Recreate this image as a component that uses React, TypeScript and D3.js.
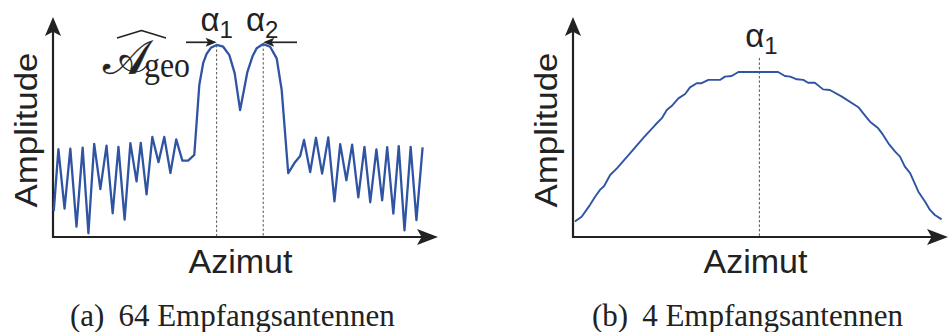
import React from "react";
import * as d3 from "d3";

// Panel (a): 64 receive antennas — azimuth samples and amplitudes
const AZIMUT_64 = [
  0.2, 1.4, 3.0, 4.5, 6.1, 7.7, 9.2, 10.7, 12.3, 13.9, 15.5, 17.0, 18.6, 20.1, 21.7, 22.8,
  24.3, 25.8, 27.4, 28.9, 30.5, 32.0, 33.6, 35.1, 36.7, 38.0, 39.0, 39.9, 41.0, 42.5, 44.2,
  45.8, 47.2, 48.6, 49.6, 50.5, 51.8, 52.9, 54.6, 56.4, 58.1, 59.4, 61.1, 62.7, 64.2, 65.2,
  66.8, 68.3, 69.9, 71.5, 73.1, 74.6, 76.2, 77.7, 79.3, 80.9, 82.4, 84.0, 85.5, 86.8, 88.4,
  89.8, 91.3, 92.9, 94.4, 96.0,
];
const AMPLITUDE_64 = [
  11.8, 39.9, 12.9, 40.2, 4.7, 40.6, 1.7, 42.3, 21.8, 41.5, 10.8, 41.0, 7.9, 42.7, 25.3, 42.8,
  19.4, 45.5, 34.0, 45.5, 29.1, 44.4, 34.7, 34.7, 37.3, 69.1, 79.0, 83.2, 86.0, 87.3, 86.5,
  82.7, 74.4, 57.7, 66.8, 75.1, 82.0, 85.8, 87.7, 86.5, 81.2, 66.8, 29.0, 33.6, 36.8, 44.1,
  29.5, 45.1, 28.8, 45.3, 16.2, 42.2, 25.8, 42.0, 18.0, 41.0, 15.8, 39.8, 16.7, 40.8, 10.6,
  41.3, 3.0, 41.0, 7.7, 40.7,
];
const PEAKS_64 = [42.5, 54.6];
const PEAK_AMPLITUDES_64 = [87.3, 87.7];
const PEAK_NAMES_64 = ["1", "2"];

// Panel (b): 4 receive antennas
const AZIMUT_4 = [
  0.5, 2.3, 4.5, 5.9, 7.2, 8.3, 9.9, 11.7, 15.2, 18.7, 21.9, 23.7, 25.0, 26.3, 28.1, 29.9,
  31.2, 33.0, 34.3, 36.1, 39.2, 40.5, 42.3, 44.1, 54.7, 56.5, 57.9, 59.7, 61.4, 62.7, 64.5,
  66.7, 68.5, 71.7, 76.1, 77.4, 79.2, 81.4, 82.7, 84.1, 85.9, 87.2, 88.5, 89.9, 92.1, 93.9,
  95.2, 96.5, 98.3,
];
const AMPLITUDE_4 = [
  7.0, 9.2, 14.5, 18.3, 21.4, 23.2, 28.2, 31.2, 38.0, 44.9, 50.9, 54.0, 57.7, 59.5, 63.0, 65.0,
  68.0, 69.9, 69.9, 71.4, 71.4, 72.9, 73.2, 75.0, 75.0, 73.2, 72.9, 71.7, 71.4, 70.1, 70.1,
  67.1, 66.8, 63.8, 59.0, 56.2, 52.4, 49.4, 46.4, 42.6, 38.8, 36.5, 32.0, 29.0, 20.6, 16.0,
  12.3, 10.0, 8.0,
];
const PEAKS_4 = [49.7];
const PEAK_AMPLITUDES_4 = [81.4];
const PEAK_NAMES_4 = ["1"];

const X_LABEL = "Azimut";
const Y_LABEL = "Amplitude";
const CAPTION_TAGS = ["(a)", "(b)"];
const CAPTION_TEXTS = ["64 Empfangsantennen", "4 Empfangsantennen"];

const W = 950;
const H = 332;
const INK = "#222";
const BLUE = "#2f54a3";
const SANS = "'Liberation Sans', Arial, Helvetica, sans-serif";
const SERIF = "'Liberation Serif', 'Times New Roman', serif";

const yScale = d3.scaleLinear().domain([0, 100]).range([237, 17]);
const xScaleA = d3.scaleLinear().domain([0, 100]).range([53, 438]);
const xScaleB = d3.scaleLinear().domain([0, 100]).range([573, 948]);

// Filled arrowhead with a slightly notched back; dir is the pointing direction
function arrowHead(tx: number, ty: number, dir: "up" | "right" | "left", len: number, half: number) {
  const notch = len * 0.22;
  if (dir === "up") {
    return `M${tx},${ty} L${tx - half},${ty + len} L${tx},${ty + len - notch} L${tx + half},${ty + len} Z`;
  }
  const s = dir === "right" ? -1 : 1;
  return `M${tx},${ty} L${tx + s * len},${ty - half} L${tx + s * (len - notch)},${ty} L${tx + s * len},${ty + half} Z`;
}

type PanelProps = {
  xs: number[];
  ys: number[];
  x: d3.ScaleLinear<number, number>;
  peaks: number[];
  peakAmps: number[];
  stroke: number;
};

function Panel({ xs, ys, x, peaks, peakAmps, stroke }: PanelProps) {
  const line = d3
    .line<number>()
    .x((_, i) => x(xs[i]))
    .y((d) => yScale(d));
  const x0 = x.range()[0];
  const x1 = x.range()[1];
  const yBase = yScale(0);
  const yTop = yScale(100);
  return (
    <g>
      {/* axes */}
      <line x1={x0} y1={yBase} x2={x0} y2={yTop + 14} stroke={INK} strokeWidth={2.2} />
      <path d={arrowHead(x0, yTop, "up", 19, 8)} fill={INK} />
      <line x1={x0 - 1} y1={yBase} x2={x1 - 14} y2={yBase} stroke={INK} strokeWidth={2.2} />
      <path d={arrowHead(x1, yBase, "right", 21, 8)} fill={INK} />
      {/* peak markers */}
      {peaks.map((p, i) => (
        <line
          key={"d" + i}
          x1={x(p)}
          x2={x(p)}
          y1={yScale(peakAmps[i])}
          y2={yBase}
          stroke="#555"
          strokeWidth={1}
          strokeDasharray="2.5,2"
        />
      ))}
      {/* curve */}
      <path d={line(ys) || ""} fill="none" stroke={BLUE} strokeWidth={stroke} strokeLinejoin="round" />
      {/* axis titles */}
      <text
        transform={`translate(${x0 - 16},${(yTop + yBase) / 2 + 3}) rotate(-90)`}
        textAnchor="middle"
        fontFamily={SANS}
        fontSize={31}
        textLength={155}
        lengthAdjust="spacingAndGlyphs"
        fill={INK}
      >
        {Y_LABEL}
      </text>
      <text
        x={(x0 + x1) / 2 - 5}
        y={273}
        textAnchor="middle"
        fontFamily={SANS}
        fontSize={34}
        fill={INK}
      >
        {X_LABEL}
      </text>
    </g>
  );
}

function AlphaLabel({ cx, baseline, sub }: { cx: number; baseline: number; sub: string }) {
  return (
    <text x={cx} y={baseline} fontFamily={SANS} fontSize={33} fill={INK} textAnchor="middle">
      α
      <tspan fontSize={24} dy={7}>
        {sub}
      </tspan>
    </text>
  );
}

export default function App() {
  const arrowY = yScale(88.5);
  const pA1 = xScaleA(PEAKS_64[0]);
  const pA2 = xScaleA(PEAKS_64[1]);
  return (
    <svg
      width={W}
      height={H}
      viewBox={`0 0 ${W} ${H}`}
      style={{ position: "absolute", left: 0, top: 0, background: "#fff" }}
    >
      <rect width={W} height={H} fill="#fff" />
      <Panel
        xs={AZIMUT_64}
        ys={AMPLITUDE_64}
        x={xScaleA}
        peaks={PEAKS_64}
        peakAmps={PEAK_AMPLITUDES_64}
        stroke={2.3}
      />
      <Panel
        xs={AZIMUT_4}
        ys={AMPLITUDE_4}
        x={xScaleB}
        peaks={PEAKS_4}
        peakAmps={PEAK_AMPLITUDES_4}
        stroke={1.9}
      />

      {/* panel (a) peak annotations */}
      <line x1={186} y1={arrowY} x2={pA1 - 8} y2={arrowY} stroke={INK} strokeWidth={1.7} />
      <path d={arrowHead(pA1, arrowY, "right", 11, 4.5)} fill={INK} />
      <line x1={297} y1={arrowY} x2={pA2 + 8} y2={arrowY} stroke={INK} strokeWidth={1.7} />
      <path d={arrowHead(pA2, arrowY, "left", 11, 4.5)} fill={INK} />
      <AlphaLabel cx={pA1} baseline={31} sub={PEAK_NAMES_64[0]} />
      <AlphaLabel cx={pA2 - 1} baseline={31} sub={PEAK_NAMES_64[1]} />
      <AlphaLabel cx={xScaleB(PEAKS_4[0]) + 2} baseline={47} sub={PEAK_NAMES_4[0]} />

      {/* estimated geometric amplitude */}
      <path
        d="M117,38 L141.5,30.5 L166,38"
        fill="none"
        stroke={INK}
        strokeWidth={1.6}
        strokeLinejoin="round"
      />
      <text x={103} y={74} fontFamily="'DejaVu Serif', 'DejaVu Sans', serif" fontSize={48} fill={INK} stroke={INK} strokeWidth={0.5}>
        𝒜
      </text>
      <text x={144} y={77} fontFamily={SERIF} fontSize={36} textLength={46} lengthAdjust="spacingAndGlyphs" fill={INK}>
        geo
      </text>

      {/* captions */}
      <text x={70} y={326} fontFamily={SERIF} fontSize={31} fill={INK}>
        {CAPTION_TAGS[0]}
        <tspan dx={14}>{CAPTION_TEXTS[0]}</tspan>
      </text>
      <text x={592} y={326} fontFamily={SERIF} fontSize={31} fill={INK}>
        {CAPTION_TAGS[1]}
        <tspan dx={14}>{CAPTION_TEXTS[1]}</tspan>
      </text>
    </svg>
  );
}
